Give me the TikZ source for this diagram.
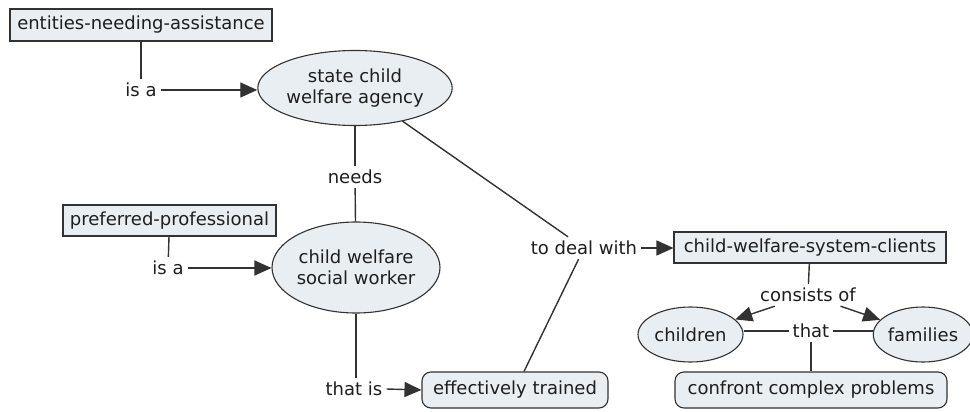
\documentclass[tikz,border=0pt]{standalone}
\usepackage{fontspec}
\setmainfont{DejaVu Sans}
\usetikzlibrary{shapes.geometric,arrows.meta}
\definecolor{cfill}{RGB}{232,238,242}
\definecolor{cline}{RGB}{50,50,50}
\definecolor{ctext}{RGB}{30,30,30}
\begin{document}
\begin{tikzpicture}[x=1pt,y=-1pt,
  font=\fontsize{18}{21}\selectfont, text=ctext,
  concept/.style={draw=cline, fill=cfill, line width=1.1pt, inner sep=0pt},
  sq/.style={concept, rectangle},
  rnd/.style={concept, rectangle, rounded corners=9pt},
  ell/.style={concept, ellipse},
  lab/.style={inner sep=4pt},
  conn/.style={draw=cline, line width=1.4pt},
  arr/.style={conn, -{Triangle[length=17pt,width=15pt]}}]
\useasboundingbox (0,0) rectangle (970,412);
\fill[white] (0,0) rectangle (970,412);
% concepts
\node[sq, minimum width=262pt, minimum height=32pt] (ena) at (141,25) {entities-needing-assistance};
\node[ell, minimum width=184pt, minimum height=75pt, align=center] (state) at (355,88) {state child\\welfare agency};
\node[sq, minimum width=213pt, minimum height=31pt] (pp) at (169.5,220.5) {preferred-professional};
\node[ell, minimum width=168pt, minimum height=91pt, align=center] (csw) at (356,267.5) {child welfare\\social worker};
\node[rnd, minimum width=186pt, minimum height=36pt] (et) at (515,390) {effectively trained};
\node[sq, minimum width=272pt, minimum height=31pt] (cwsc) at (810,247.5) {child-welfare-system-clients};
\node[ell, minimum width=105pt, minimum height=55pt] (ch) at (690.5,334.5) {children};
\node[ell, minimum width=86pt, minimum height=55pt] (fam) at (923,334.5) {families};
\node[rnd, minimum width=272pt, minimum height=36pt] (ccp) at (811,390) {confront complex problems};
% linking phrases
\node[lab] (isa1) at (141,90) {is a};
\node[lab] (needs) at (355,177) {needs};
\node[lab] (isa2) at (168,268) {is a};
\node[lab] (thatis) at (354,389) {that is};
\node[lab] (tdw) at (584,248) {to deal with};
\node[lab] (cons) at (808,295) {consists of};
\node[lab] (that) at (811,331) {that};
% connectors
\draw[conn] (ena) -- (isa1);
\draw[arr] (isa1.east) -- (isa1.east -| state.west);
\draw[conn] (state) -- (needs);
\draw[conn] (needs) -- (csw);
\draw[conn] (pp) -- (isa2);
\draw[arr] (isa2.east) -- (isa2.east -| csw.west);
\draw[conn] (csw.south) -- (thatis.north -| csw.south);
\draw[arr] (thatis.east) -- (et.west);
\draw[conn] (state) -- (tdw);
\draw[conn] (et) -- (tdw);
\draw[arr] (tdw.east) -- (cwsc.west |- tdw.east);
\draw[conn] (cwsc) -- (cons);
\draw[arr] (cons) -- (ch);
\draw[arr] (cons) -- (fam);
\draw[conn] (ch.east |- that.west) -- (that.west);
\draw[conn] (that.east) -- (fam.west |- that.east);
\draw[conn] (that) -- (ccp);
\end{tikzpicture}
\end{document}
